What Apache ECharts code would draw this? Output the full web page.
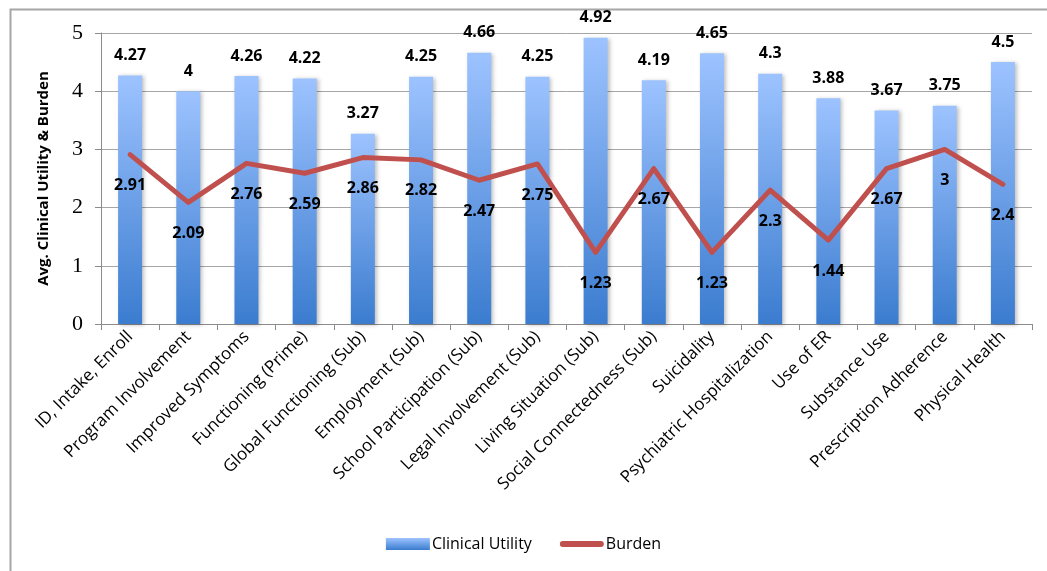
<!DOCTYPE html>
<html><head><meta charset="utf-8">
<script src="https://cdn.jsdelivr.net/npm/echarts@6/dist/echarts.min.js"></script>
<style>html,body{margin:0;padding:0;background:#fff}#c{width:1047px;height:571px}</style>
</head><body><div id="c"></div>
<script>
const categories = ["ID, Intake, Enroll","Program Involvement","Improved Symptoms","Functioning (Prime)","Global Functioning (Sub)","Employment (Sub)","School Participation (Sub)","Legal Involvement (Sub)","Living Situation (Sub)","Social Connectedness (Sub)","Suicidality","Psychiatric Hospitalization","Use of ER","Substance Use","Prescription Adherence","Physical Health"];
const clinicalUtility = [4.27,4,4.26,4.22,3.27,4.25,4.66,4.25,4.92,4.19,4.65,4.3,3.88,3.67,3.75,4.5];
const burden = [2.91,2.09,2.76,2.59,2.86,2.82,2.47,2.75,1.23,2.67,1.23,2.3,1.44,2.67,3,2.4];
const yTicks = [0,1,2,3,4,5];

const chart = echarts.init(document.getElementById('c'));
const barGrad = new echarts.graphic.LinearGradient(0,0,0,1,[{offset:0,color:'#9DC3FF'},{offset:1,color:'#3B7CCF'}]);
const legendGrad = new echarts.graphic.LinearGradient(0,0,0,1,[{offset:0,color:'#9DC3FF'},{offset:1,color:'#3B7CCF'}]);
const sans = "'Open Sans', 'Liberation Sans', sans-serif";
const lineIcon = 'path://M0,0L0.01,0ZM0,12L0.01,12ZM3,3h38a3,3 0 0 1 0,6h-38a3,3 0 0 1 0,-6Z';
chart.setOption({
  animation:false,
  graphic:[{type:'polyline',shape:{points:[[10.5,1000],[10.5,9.5],[1100,9.5]]},style:{stroke:'#A6A6A6',lineWidth:2,fill:null},silent:true}],
  grid:{left:101,right:15,top:33,bottom:247},
  legend:{bottom:14,left:'center',itemGap:28,itemWidth:44,itemHeight:12,
    textStyle:{fontFamily:sans,fontSize:16,color:'#000',padding:[0,0,0,-3]},
    data:[{name:'Clinical Utility',icon:'rect',itemStyle:{color:legendGrad}},{name:'Burden',icon:lineIcon,itemStyle:{color:'#C0504D',opacity:1}}]},
  xAxis:{type:'category',data:categories,
    axisLine:{lineStyle:{color:'#8C8C8C',width:1}},
    axisTick:{show:true,length:6,alignWithLabel:false,lineStyle:{color:'#8C8C8C'}},
    axisLabel:{rotate:45,interval:0,fontFamily:sans,fontSize:17,color:'#000',margin:10}},
  yAxis:{type:'value',min:yTicks[0],max:yTicks[yTicks.length-1],interval:1,
    name:'Avg. Clinical Utility & Burden',nameLocation:'middle',nameGap:50,
    nameTextStyle:{fontFamily:sans,fontSize:15,fontWeight:'bold',color:'#000'},
    axisLine:{show:true,lineStyle:{color:'#8C8C8C'}},
    axisTick:{show:true,length:6,lineStyle:{color:'#8C8C8C'}},
    splitLine:{lineStyle:{color:'#A6A6A6',width:1}},
    axisLabel:{fontFamily:"'Liberation Serif', serif",fontSize:22,color:'#000',margin:18}},
  series:[
    {name:'Clinical Utility',type:'bar',data:clinicalUtility,barWidth:24,
      itemStyle:{color:barGrad,shadowColor:'rgba(0,0,0,0.25)',shadowBlur:4,shadowOffsetX:2,shadowOffsetY:1},
      label:{show:true,position:'top',distance:12,fontFamily:sans,fontSize:16,fontWeight:'bold',color:'#000'}},
    {name:'Burden',type:'line',data:burden,symbol:'circle',symbolSize:2,showSymbol:true,
      lineStyle:{color:'#C0504D',width:5,cap:'round',join:'round'},itemStyle:{color:'#C0504D'},
      label:{show:true,position:'bottom',distance:22,fontFamily:sans,fontSize:16,fontWeight:'bold',color:'#000'},
      labelLayout:{hideOverlap:false}}
  ]
});
</script></body></html>
